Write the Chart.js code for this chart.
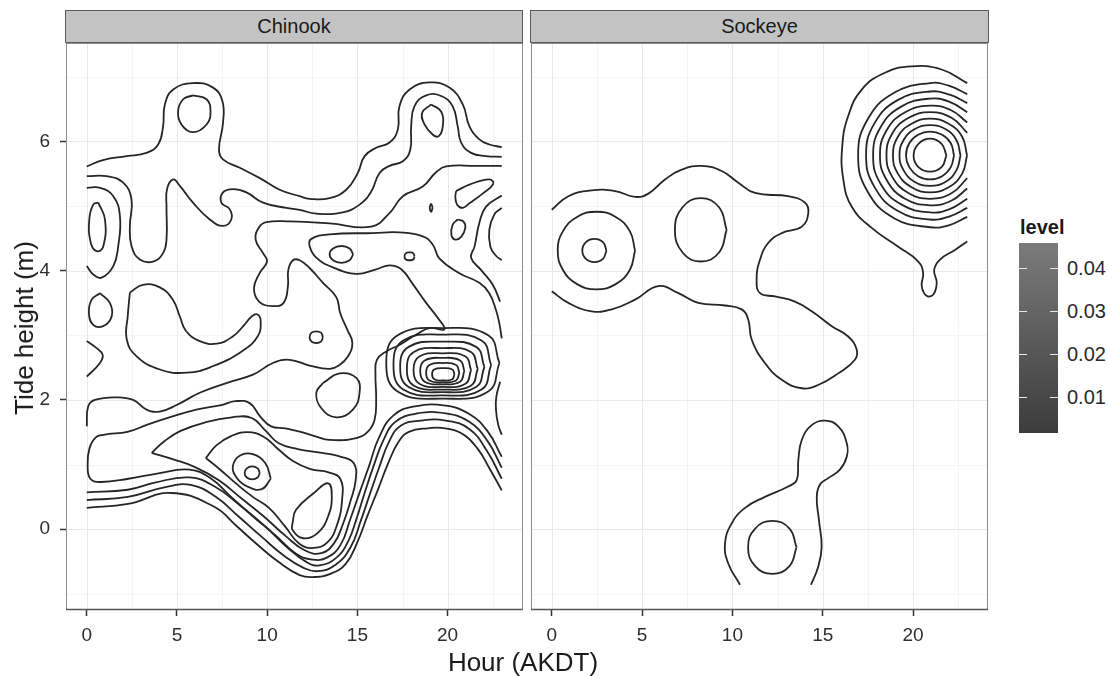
<!DOCTYPE html>
<html><head><meta charset="utf-8">
<script src="https://cdn.jsdelivr.net/npm/chart.js@4.4.1/dist/chart.umd.min.js"></script>
<style>
html,body{margin:0;padding:0;background:#fff;}
body{width:1108px;height:676px;position:relative;overflow:hidden;font-family:"Liberation Sans",Arial,Helvetica,sans-serif;color:#1a1a1a;}
canvas{position:absolute;}
.strip{position:absolute;top:10px;height:33px;background:#c3c3c3;border:1px solid #5a5a5a;box-sizing:border-box;text-align:center;font-size:20px;line-height:31px;color:#1a1a1a;}
.ytitle{position:absolute;left:24px;top:328px;transform:translate(-50%,-50%) rotate(-90deg);font-size:26px;white-space:nowrap;line-height:30px;}
.xtitle{position:absolute;left:523px;top:647px;transform:translateX(-50%);font-size:26px;line-height:30px;white-space:nowrap;}
.ltitle{position:absolute;left:1020px;top:215px;font-size:20px;font-weight:bold;line-height:24px;}
.bar{position:absolute;left:1019px;top:243px;width:39px;height:190px;background:linear-gradient(to bottom,#7b7b7b,#3c3c3c);}
.btick{position:absolute;height:1px;width:8px;background:#e8e8e8;}
.blab{position:absolute;left:1067px;font-size:20px;line-height:24px;color:#2a2a2a;}
</style></head><body>
<canvas id="cL" style="left:0;top:0" width="530" height="676"></canvas>
<canvas id="cR" style="left:525px;top:0" width="470" height="676"></canvas>
<div class="strip" style="left:65px;width:458px;">Chinook</div>
<div class="strip" style="left:530px;width:459px;">Sockeye</div>
<div class="ytitle">Tide height (m)</div>
<div class="xtitle">Hour (AKDT)</div>
<div class="ltitle">level</div>
<div class="bar" id="bar"></div>
<div id="leg"></div>
<script>
// ---------- axis / legend values ----------
const hourTicks = [0, 5, 10, 15, 20];
const hourMinor = [2.5, 7.5, 12.5, 17.5, 22.5];
const heightTicks = [0, 2, 4, 6];
const heightMinor = [-1, 1, 3, 5, 7];
const levelTicks = [0.01, 0.02, 0.03, 0.04];
const levelRange = [0.0016, 0.0459];
const hourRange = [-1.15, 24.15];
const heightRange = [-1.25, 7.52];

// ---------- Chinook contours (hour, tide height) ----------
const ch_top = [[0.0,5.61],[0.90,5.71],[2.21,5.77],[3.31,5.82],[3.96,5.95],[4.23,6.23],[4.33,6.57],[4.79,6.80],[5.89,6.90],[7.00,6.83],[7.52,6.62],[7.55,6.28],[7.33,5.87],[7.55,5.72],[8.48,5.59],[9.59,5.43],[10.69,5.25],[11.80,5.15],[12.35,5.11],[13.46,5.12],[14.38,5.25],[15.02,5.51],[15.40,5.77],[16.04,5.90],[16.78,5.98],[17.24,6.18],[17.33,6.54],[17.89,6.80],[18.99,6.91],[20.10,6.83],[20.84,6.57],[21.21,6.23],[21.76,6.03],[22.31,5.95],[23.0,5.91]];
const ch_peakA = [[5.89,6.71],[6.64,6.65],[6.86,6.46],[6.64,6.26],[5.89,6.14],[5.25,6.26],[5.06,6.46],[5.34,6.65],[5.89,6.71]];
const ch_peakB = [[19.09,6.57],[19.64,6.46],[19.73,6.23],[19.51,6.08],[19.18,6.10],[18.72,6.26],[18.59,6.44],[19.09,6.57]];
const ch_second = [[0.0,5.46],[1.11,5.46],[2.02,5.36],[2.48,5.10],[2.39,4.69],[2.48,4.38],[2.94,4.17],[3.68,4.14],[4.23,4.27],[4.42,4.48],[4.42,4.99],[4.45,5.26],[4.79,5.41],[5.16,5.31],[5.89,5.05],[6.82,4.79],[7.55,4.69],[8.01,4.79],[7.92,4.95],[7.46,5.05],[7.55,5.21],[8.11,5.26],[8.85,5.21],[9.77,5.05],[11.06,4.97],[11.80,4.94],[12.72,4.88],[14.19,4.90],[15.12,5.02],[15.76,5.22],[16.23,5.51],[16.78,5.62],[17.52,5.69],[17.93,5.87],[17.98,6.23],[18.16,6.54],[18.81,6.71],[19.64,6.70],[20.28,6.54],[20.56,6.23],[20.75,5.98],[21.30,5.82],[22.13,5.77],[23.0,5.76]];
const ch_third = [[23.0,5.62],[21.58,5.62],[19.92,5.61],[19.36,5.52],[18.62,5.30],[17.52,5.15],[16.78,4.89],[15.77,4.68],[13.46,4.73],[11.25,4.76],[9.96,4.75],[9.55,4.67],[9.36,4.48],[9.77,4.27],[9.99,4.14],[9.58,3.96],[9.27,3.73],[9.55,3.52],[10.32,3.45],[10.91,3.50],[11.15,3.76],[11.17,4.01],[11.43,4.16],[11.80,4.16],[12.35,4.04],[13.09,3.81],[13.83,3.59],[14.05,3.34],[14.45,3.08],[14.72,2.88],[14.47,2.67],[14.01,2.54],[13.46,2.48],[12.35,2.53],[11.25,2.62],[10.32,2.57],[9.21,2.39],[7.74,2.26],[6.26,2.11],[4.98,1.92],[4.05,1.82],[3.31,1.85],[2.57,2.00],[1.65,2.04],[0.45,2.00],[0.08,1.90],[0.0,1.59]];
const ch_edgeArc = [[0.0,5.28],[0.73,5.28],[1.47,5.15],[1.84,4.84],[1.74,4.37],[1.47,4.07],[0.82,3.89],[0.36,3.94],[0.0,4.07]];
const ch_edgeOvalA = [[0.64,5.05],[1.01,4.79],[0.91,4.37],[0.55,4.30],[0.22,4.43],[0.14,4.79],[0.36,5.02],[0.64,5.05]];
const ch_edgeOvalB = [[0.73,3.65],[1.28,3.50],[1.38,3.29],[0.91,3.14],[0.36,3.16],[0.12,3.34],[0.27,3.55],[0.73,3.65]];
const ch_edgeChevron = [[0.0,2.91],[0.55,2.80],[0.88,2.70],[0.73,2.57],[0.0,2.36]];
const ch_horseshoe = [[2.39,3.66],[3.11,3.78],[4.05,3.74],[4.77,3.55],[5.16,3.29],[5.49,3.07],[6.26,2.91],[7.21,2.87],[8.09,2.98],[8.70,3.15],[9.14,3.29],[9.47,3.32],[9.64,3.21],[9.47,2.98],[8.59,2.75],[6.98,2.52],[5.55,2.42],[4.05,2.47],[2.78,2.67],[2.22,2.93],[2.28,3.32],[2.39,3.66]];
const ch_ovalMid = [[14.76,4.25],[14.57,4.34],[14.11,4.38],[13.65,4.34],[13.46,4.25],[13.65,4.16],[14.11,4.12],[14.57,4.16],[14.76,4.25]];
const ch_ovalDot = [[18.17,4.22],[18.09,4.27],[17.89,4.28],[17.69,4.27],[17.61,4.22],[17.69,4.17],[17.89,4.16],[18.09,4.17],[18.17,4.22]];
const ch_ovalSmall = [[13.09,2.97],[12.98,3.04],[12.72,3.06],[12.46,3.04],[12.35,2.97],[12.46,2.90],[12.72,2.88],[12.98,2.90],[13.09,2.97]];
const ch_blob = [[13.09,2.26],[14.01,2.41],[14.94,2.34],[15.12,2.11],[14.75,1.85],[13.83,1.73],[13.00,1.87],[12.72,2.11],[13.09,2.26]];
const ch_dot = [[19.17,4.97],[19.09,5.03],[19.01,4.97],[19.09,4.91],[19.17,4.97]];
const ch_tear = [[20.47,5.23],[21.21,5.33],[22.31,5.41],[22.53,5.34],[21.94,5.19],[21.21,5.04],[20.84,4.97],[20.53,5.02],[20.43,5.14],[20.47,5.23]];
const ch_ovalR = [[20.56,4.79],[20.87,4.76],[20.98,4.66],[20.75,4.52],[20.42,4.48],[20.21,4.55],[20.28,4.71],[20.56,4.79]];
const ch_rightLine = [[23.0,5.16],[22.13,4.99],[21.76,4.74],[21.49,4.37],[21.30,4.20],[21.85,4.01],[22.50,3.78],[22.91,3.52]];
const ch_rightArc = [[23.0,4.97],[22.59,4.87],[22.31,4.63],[22.37,4.37],[22.68,4.23],[23.0,4.16]];
const ch_edgeRight = [[22.91,2.28],[22.70,2.05],[22.68,1.85],[22.80,1.62],[23.0,1.46]];
const ch_fourth = [[23.0,1.12],[22.2,1.52],[21.2,1.78],[19.9,1.91],[18.2,1.90],[17.0,1.76],[16.2,1.42],[15.65,0.98],[15.1,0.55],[14.6,0.15],[14.05,-0.25],[13.3,-0.44],[12.5,-0.47],[11.6,-0.38],[10.4,-0.08],[9.2,0.20],[8.0,0.50],[6.9,0.78],[5.7,0.92],[3.9,0.86],[2.3,0.78],[0.8,0.73],[0.2,0.78],[0.05,1.0],[0.15,1.25],[0.5,1.42],[0.93,1.46],[2.31,1.51],[3.30,1.61],[4.49,1.72],[6.07,1.85],[7.45,1.92],[8.24,1.98],[9.03,1.95],[9.62,1.74],[10.22,1.59],[11.01,1.56],[11.80,1.51],[12.63,1.44],[13.46,1.38],[14.94,1.41],[15.58,1.51],[15.95,1.69],[16.04,2.00],[16.00,2.41],[16.08,2.62],[16.60,2.75],[17.33,2.85],[18.26,3.01],[18.99,3.11],[19.82,3.09],[19.45,3.27],[18.81,3.50],[18.07,3.79],[17.43,4.02],[16.78,4.08],[16.04,4.02],[14.94,3.95],[13.64,4.05],[12.72,4.20],[12.35,4.38],[12.45,4.49],[13.46,4.56],[15.85,4.58],[17.33,4.59],[18.62,4.53],[19.18,4.40],[19.54,4.19],[20.65,3.96],[21.76,3.81],[22.31,3.65],[22.68,3.39],[22.86,3.19],[23.0,2.95]];
const ch_valley1 = [[0.0,0.33],[2.28,0.39],[4.66,0.56],[7.04,0.35],[8.3,0.05],[9.42,-0.23],[10.6,-0.50],[11.80,-0.71],[12.57,-0.74],[13.5,-0.69],[14.34,-0.54],[15.0,-0.20],[15.56,0.21],[16.15,0.62],[16.72,1.03],[17.3,1.36],[17.88,1.51],[18.9,1.56],[19.87,1.56],[20.9,1.46],[21.70,1.23],[22.3,0.95],[23.0,0.60]];
const ch_valley2 = [[0.0,0.45],[2.28,0.50],[4.49,0.66],[5.82,0.68],[7.15,0.50],[8.48,0.18],[9.70,-0.12],[10.97,-0.42],[11.96,-0.59],[12.79,-0.65],[13.79,-0.55],[14.62,-0.28],[15.2,0.14],[15.7,0.55],[16.2,0.95],[16.75,1.35],[17.4,1.60],[18.5,1.68],[19.9,1.68],[21.2,1.55],[22.2,1.20],[23.0,0.78]];
const ch_valley3 = [[0.0,0.57],[2.28,0.61],[3.77,0.72],[5.71,0.80],[7.09,0.66],[8.48,0.37],[9.86,0.05],[11.1,-0.28],[12.19,-0.51],[12.91,-0.56],[13.84,-0.44],[14.5,-0.18],[14.95,0.16],[15.4,0.56],[15.9,0.98],[16.45,1.38],[17.1,1.66],[18.3,1.79],[19.9,1.79],[21.2,1.66],[22.2,1.37],[23.0,0.95]];
const ch_wedge = [[3.6,1.18],[4.3,1.36],[5.2,1.52],[6.54,1.65],[8.04,1.73],[9.14,1.72],[9.92,1.52],[10.64,1.33],[11.69,1.24],[13.02,1.18],[14.1,1.12],[14.8,1.02],[14.9,0.75],[14.6,0.42],[14.2,0.08],[13.7,-0.22],[13.0,-0.37],[12.1,-0.33],[11.0,-0.10],[9.8,0.20],[8.6,0.47],[7.3,0.76],[6.0,0.96],[4.8,1.08],[3.6,1.18]];
const ch_inner = [[6.6,1.10],[7.2,1.30],[8.0,1.44],[8.9,1.50],[9.8,1.43],[10.6,1.24],[11.4,1.06],[12.4,0.93],[13.4,0.88],[14.05,0.78],[14.15,0.45],[13.85,0.05],[13.35,-0.20],[12.6,-0.29],[11.8,-0.23],[11.0,0.04],[10.1,0.33],[9.2,0.50],[8.3,0.70],[7.4,0.92],[6.6,1.10]];
const ch_triangle = [[11.40,0.09],[11.60,0.30],[12.59,0.56],[13.38,0.71],[13.58,0.51],[13.38,0.20],[12.79,-0.06],[12.00,-0.14],[11.40,-0.01],[11.40,0.09]];
const ch_peak1b = [[10.2,0.78],[9.9,1.02],[9.2,1.16],[8.5,1.14],[8.1,0.98],[8.3,0.80],[8.9,0.66],[9.7,0.62],[10.2,0.78]];
const ch_peak1c = [[9.59,0.87],[9.47,0.94],[9.17,0.97],[8.87,0.94],[8.75,0.87],[8.87,0.80],[9.17,0.77],[9.47,0.80],[9.59,0.87]];
const ch_ring0 = [[22.87,2.57],[22.25,3.00],[19.74,3.11],[17.23,3.00],[16.60,2.57],[17.23,2.13],[19.74,2.02],[22.25,2.13],[22.87,2.57]];
const ch_ring1 = [[22.41,2.54],[21.88,2.92],[19.71,3.01],[17.54,2.92],[17.00,2.54],[17.54,2.16],[19.71,2.07],[21.88,2.16],[22.41,2.54]];
const ch_ring2 = [[22.04,2.51],[21.58,2.82],[19.71,2.90],[17.84,2.82],[17.37,2.51],[17.84,2.20],[19.71,2.12],[21.58,2.20],[22.04,2.51]];
const ch_ring3 = [[21.67,2.48],[21.29,2.74],[19.71,2.80],[18.13,2.74],[17.74,2.48],[18.13,2.22],[19.71,2.16],[21.29,2.22],[21.67,2.48]];
const ch_ring4 = [[21.30,2.46],[20.99,2.67],[19.71,2.72],[18.43,2.67],[18.11,2.46],[18.43,2.25],[19.71,2.20],[20.99,2.25],[21.30,2.46]];
const ch_ring5 = [[20.93,2.45],[20.69,2.61],[19.71,2.65],[18.73,2.61],[18.48,2.45],[18.73,2.28],[19.71,2.24],[20.69,2.28],[20.93,2.45]];
const ch_ring6 = [[20.65,2.42],[20.47,2.54],[19.73,2.57],[18.99,2.54],[18.81,2.42],[18.99,2.30],[19.73,2.27],[20.47,2.30],[20.65,2.42]];
const ch_ring7 = [[20.38,2.40],[20.26,2.47],[19.76,2.49],[19.26,2.47],[19.14,2.40],[19.26,2.32],[19.76,2.30],[20.26,2.32],[20.38,2.40]];

// ---------- Sockeye contours ----------
const so_outer = [[0.00,4.94],[0.92,5.15],[2.21,5.24],[3.50,5.23],[4.61,5.14],[5.35,5.19],[6.27,5.41],[7.19,5.56],[8.30,5.62],[9.41,5.54],[10.33,5.36],[11.25,5.20],[13.09,5.15],[14.02,5.05],[14.20,4.89],[13.84,4.68],[12.73,4.58],[11.99,4.43],[11.53,4.17],[11.34,3.86],[11.53,3.65],[12.36,3.60],[13.46,3.52],[14.39,3.37],[15.50,3.14],[16.41,2.98],[16.88,2.78],[16.78,2.62],[15.86,2.41],[14.75,2.23],[13.84,2.18],[12.73,2.31],[11.80,2.57],[11.07,2.93],[10.88,3.24],[10.51,3.40],[9.59,3.46],[8.11,3.50],[7.01,3.65],[5.90,3.76],[4.61,3.55],[3.32,3.40],[2.21,3.37],[0.92,3.50],[0.00,3.68]];
const so_ringA = [[4.61,4.31],[4.32,4.61],[3.54,4.83],[2.47,4.91],[1.40,4.83],[0.62,4.61],[0.33,4.31],[0.62,4.01],[1.40,3.79],[2.47,3.71],[3.54,3.79],[4.32,4.01],[4.61,4.31]];
const so_ringB = [[3.03,4.31],[2.83,4.44],[2.36,4.49],[1.89,4.44],[1.69,4.31],[1.89,4.18],[2.36,4.13],[2.83,4.18],[3.03,4.31]];
const so_ovalMid = [[9.68,4.63],[9.26,4.98],[8.25,5.12],[7.24,4.98],[6.82,4.63],[7.24,4.28],[8.25,4.14],[9.26,4.28],[9.68,4.63]];
const so_tear = [[23.0,6.90],[21.58,7.11],[19.92,7.16],[18.44,7.06],[17.16,6.80],[16.41,6.39],[16.08,5.92],[16.14,5.41],[16.60,4.99],[17.71,4.66],[19.18,4.37],[20.29,4.14],[20.56,3.96],[20.48,3.76],[20.75,3.61],[21.12,3.63],[21.31,3.81],[21.17,4.01],[21.49,4.17],[22.32,4.32],[23.0,4.45]];
const so_r1 = [[23.0,6.73],[21.97,6.86],[20.94,6.90],[18.95,6.75],[17.49,6.34],[16.96,5.78],[17.49,5.22],[18.95,4.81],[20.94,4.67],[21.97,4.70],[23.0,4.83]];
const so_r2 = [[23.0,6.59],[22.03,6.72],[20.94,6.77],[19.17,6.64],[17.87,6.28],[17.40,5.78],[17.87,5.29],[19.17,4.92],[20.94,4.79],[22.03,4.84],[23.0,4.97]];
const so_r3 = [[23.0,6.45],[22.02,6.61],[20.94,6.66],[19.37,6.54],[18.21,6.22],[17.79,5.78],[18.21,5.34],[19.37,5.02],[20.94,4.90],[22.02,4.95],[23.0,5.11]];
const so_r4 = [[23.0,6.29],[22.11,6.48],[20.94,6.55],[19.56,6.45],[18.54,6.17],[18.17,5.78],[18.54,5.40],[19.56,5.11],[20.94,5.01],[22.11,5.08],[23.0,5.27]];
const so_r5 = [[23.0,6.13],[22.15,6.36],[20.94,6.45],[19.74,6.36],[18.85,6.12],[18.53,5.78],[18.85,5.45],[19.74,5.20],[20.94,5.11],[22.15,5.20],[23.0,5.43]];
const so_r6 = [[22.99,5.78],[22.72,6.07],[21.97,6.27],[20.94,6.35],[19.92,6.27],[19.16,6.07],[18.89,5.78],[19.16,5.50],[19.92,5.29],[20.94,5.21],[21.97,5.29],[22.72,5.50],[22.99,5.78]];
const so_r7 = [[22.63,5.78],[22.40,6.02],[21.79,6.19],[20.94,6.25],[20.10,6.19],[19.48,6.02],[19.25,5.78],[19.48,5.55],[20.10,5.37],[20.94,5.31],[21.79,5.37],[22.40,5.55],[22.63,5.78]];
const so_r8 = [[22.27,5.78],[22.09,5.97],[21.61,6.10],[20.94,6.15],[20.28,6.10],[19.79,5.97],[19.61,5.78],[19.79,5.60],[20.28,5.46],[20.94,5.41],[21.61,5.46],[22.09,5.60],[22.27,5.78]];
const so_r9 = [[21.85,5.78],[21.58,5.96],[20.94,6.04],[20.30,5.96],[20.03,5.78],[20.30,5.60],[20.94,5.53],[21.58,5.60],[21.85,5.78]];
const so_bulb = [[10.42,-0.86],[9.77,-0.53],[9.59,-0.22],[9.96,0.09],[10.70,0.33],[11.80,0.50],[13.09,0.66],[13.56,0.76],[13.65,1.07],[13.84,1.38],[14.39,1.61],[15.12,1.68],[15.86,1.59],[16.33,1.33],[16.33,1.12],[15.95,0.92],[15.31,0.79],[14.85,0.69],[14.67,0.50],[14.79,0.14],[14.94,-0.27],[14.75,-0.58],[14.35,-0.86]];
const so_low = [[13.55,-0.28],[13.16,0.01],[12.21,0.13],[11.26,0.01],[10.87,-0.28],[11.26,-0.57],[12.21,-0.69],[13.16,-0.57],[13.55,-0.28]];

const chinookLines = [ch_top,ch_peakA,ch_peakB,ch_second,ch_third,ch_edgeArc,ch_edgeOvalA,ch_edgeOvalB,ch_edgeChevron,ch_horseshoe,ch_ovalMid,ch_ovalDot,ch_ovalSmall,ch_blob,ch_dot,ch_tear,ch_ovalR,ch_rightLine,ch_rightArc,ch_edgeRight,ch_fourth,ch_valley1,ch_valley2,ch_valley3,ch_wedge,ch_inner,ch_triangle,ch_peak1b,ch_peak1c,ch_ring0,ch_ring1,ch_ring2,ch_ring3,ch_ring4,ch_ring5,ch_ring6,ch_ring7];
const sockeyeLines = [so_outer,so_ringA,so_ringB,so_ovalMid,so_tear,so_r1,so_r2,so_r3,so_r4,so_r5,so_r6,so_r7,so_r8,so_r9,so_bulb,so_low];

const FONT = '"Liberation Sans", Arial, Helvetica, sans-serif';
const LINE = '#262626';

const panelPlugin = {
  id: 'panel',
  beforeDatasetsDraw(chart) {
    const {ctx, chartArea: a, scales: {x, y}} = chart;
    ctx.save();
    ctx.lineWidth = 1;
    const vline = (v, c) => { const p = Math.round(x.getPixelForValue(v)) + 0.5; ctx.strokeStyle = c; ctx.beginPath(); ctx.moveTo(p, a.top); ctx.lineTo(p, a.bottom); ctx.stroke(); };
    const hline = (v, c) => { const p = Math.round(y.getPixelForValue(v)) + 0.5; ctx.strokeStyle = c; ctx.beginPath(); ctx.moveTo(a.left, p); ctx.lineTo(a.right, p); ctx.stroke(); };
    hourMinor.forEach(v => vline(v, '#f4f4f4'));
    heightMinor.forEach(v => hline(v, '#f4f4f4'));
    hourTicks.forEach(v => vline(v, '#e9e9e9'));
    heightTicks.forEach(v => hline(v, '#e9e9e9'));
    ctx.restore();
  },
  afterDatasetsDraw(chart) {
    const {ctx, chartArea: a} = chart;
    ctx.save();
    ctx.strokeStyle = '#8c8c8c';
    ctx.lineWidth = 1;
    ctx.strokeRect(Math.round(a.left) + 0.5, Math.round(a.top) + 0.5, Math.round(a.right - a.left) - 1, Math.round(a.bottom - a.top) - 1);
    ctx.strokeStyle = '#555';
    ctx.lineWidth = 1.5;
    ctx.beginPath(); ctx.moveTo(a.left, a.bottom - 0.5); ctx.lineTo(a.right, a.bottom - 0.5); ctx.stroke();
    ctx.restore();
  }
};

function makePanel(id, lines, showY, padL, padR) {
  return new Chart(document.getElementById(id), {
    type: 'scatter',
    data: {
      datasets: lines.map(c => ({
        data: c.map(p => ({x: p[0], y: p[1]})),
        showLine: true, borderColor: LINE, borderWidth: 1.8,
        pointRadius: 0, pointHoverRadius: 0, tension: 0.45, fill: false
      }))
    },
    options: {
      responsive: false, animation: false, events: [],
      layout: {padding: {left: padL, right: padR, top: 43, bottom: 0}},
      plugins: {legend: {display: false}, tooltip: {enabled: false}},
      scales: {
        x: {
          type: 'linear', min: hourRange[0], max: hourRange[1],
          afterBuildTicks: s => { s.ticks = hourTicks.map(v => ({value: v})); },
          afterFit: s => { s.height = 66; },
          grid: {drawOnChartArea: false, drawTicks: true, tickLength: 6, tickColor: '#333', tickWidth: 1.5},
          border: {display: false},
          ticks: {font: {size: 19, family: FONT}, color: '#2e2e2e', padding: 8, maxRotation: 0, autoSkip: false}
        },
        y: {
          type: 'linear', min: heightRange[0], max: heightRange[1],
          afterBuildTicks: s => { s.ticks = heightTicks.map(v => ({value: v})); },
          afterFit: s => { s.width = showY ? 66 : 0; },
          grid: {drawOnChartArea: false, drawTicks: showY, tickLength: 6, tickColor: '#333', tickWidth: 1.5},
          border: {display: false},
          ticks: {display: showY, font: {size: 19, family: FONT}, color: '#2e2e2e', padding: 10}
        }
      }
    },
    plugins: [panelPlugin]
  });
}

makePanel('cL', chinookLines, true, 0, 7.5);
makePanel('cR', sockeyeLines, false, 6, 7);

// legend ticks / labels
const leg = document.getElementById('leg');
const barTop = 243, barH = 190, barLeft = 1019, barW = 39;
levelTicks.forEach(v => {
  const yy = barTop + barH - (v - levelRange[0]) / (levelRange[1] - levelRange[0]) * barH;
  const t1 = document.createElement('div'); t1.className = 'btick'; t1.style.left = barLeft + 'px'; t1.style.top = Math.round(yy) + 'px'; leg.appendChild(t1);
  const t2 = document.createElement('div'); t2.className = 'btick'; t2.style.left = (barLeft + barW - 8) + 'px'; t2.style.top = Math.round(yy) + 'px'; leg.appendChild(t2);
  const lb = document.createElement('div'); lb.className = 'blab'; lb.textContent = v.toFixed(2); lb.style.top = Math.round(yy - 12) + 'px'; leg.appendChild(lb);
});
</script>
</body></html>
